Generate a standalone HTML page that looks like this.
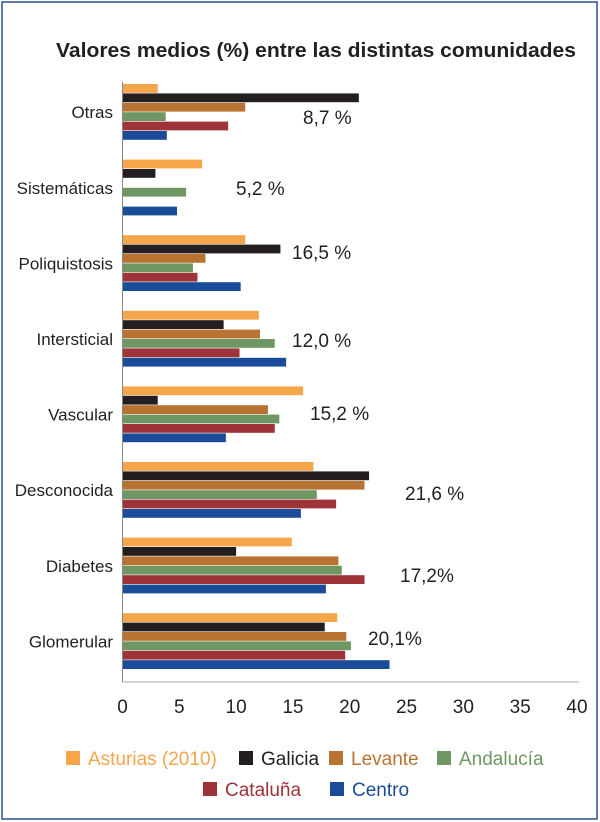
<!DOCTYPE html>
<html><head><meta charset="utf-8"><style>
html,body{margin:0;padding:0;background:#fff;}
svg{display:block;font-family:"Liberation Sans",sans-serif;}
</style></head><body>
<svg id="chart" width="600" height="822">
<rect x="2" y="2" width="595" height="817" fill="#fff" stroke="#2a4f8f" stroke-width="1.5"/>
<text x="56" y="57" font-size="20" font-weight="bold" fill="#231f20" textLength="520" lengthAdjust="spacingAndGlyphs">Valores medios (%) entre las distintas comunidades</text>
<g id="plot"></g>
</svg>
<script>
const categories=["Otras","Sistemáticas","Poliquistosis","Intersticial","Vascular","Desconocida","Diabetes","Glomerular"];
const seriesNames=["Asturias (2010)","Galicia","Levante","Andalucía","Cataluña","Centro"];
const asturias=[3.1,7.0,10.8,12.0,15.9,16.8,14.9,18.9];
const galicia=[20.8,2.9,13.9,8.9,3.1,21.7,10.0,17.8];
const levante=[10.8,0,7.3,12.1,12.8,21.3,19.0,19.7];
const andalucia=[3.8,5.6,6.2,13.4,13.8,17.1,19.3,20.1];
const cataluna=[9.3,0,6.6,10.3,13.4,18.8,21.3,19.6];
const centro=[3.9,4.8,10.4,14.4,9.1,15.7,17.9,23.5];
const annotations=["8,7 %","5,2 %","16,5 %","12,0 %","15,2 %","21,6 %","17,2%","20,1%"];
const annotX=[303,236,292,292,310,405,400,368];
const annotY=[124,195,259,347,420,500,582,645];
const ticks=[0,5,10,15,20,25,30,35,40];
const colors=["#f5a54a","#231f20","#b87333","#6f9764","#9e3339","#1b4c9a"];
const series=[asturias,galicia,levante,andalucia,cataluna,centro];
const NS="http://www.w3.org/2000/svg";
const g=document.getElementById('plot');
const x0=122.5,x1=577,xMax=40;
const xs=v=>x0+(v/xMax)*(x1-x0);
const groupTop=84,groupStep=75.6,barH=9.4;
function mk(t,a){const e=document.createElementNS(NS,t);for(const k in a)e.setAttribute(k,a[k]);g.appendChild(e);return e;}
categories.forEach((c,i)=>{
  const top=groupTop+i*groupStep;
  series.forEach((s,j)=>{
    if(s[i]<=0)return;
    const r=mk('rect',{x:x0,y:top+j*barH,width:xs(s[i])-x0,height:barH-0.6,fill:colors[j]});
    
    
  });
  const t=mk('text',{x:113,y:top+barH*3+6,'text-anchor':'end','font-size':17,fill:'#231f20'});
  t.textContent=c;
  
  
  const a=mk('text',{x:annotX[i],y:annotY[i],'font-size':19,fill:'#231f20'});
  a.textContent=annotations[i];
  
  
});
const ax=mk('line',{x1:x0,y1:82,x2:x0,y2:682,stroke:'#888','stroke-width':1});


const bx=mk('line',{x1:x0,y1:682,x2:x1+2,y2:682,stroke:'#aaa','stroke-width':1});


ticks.forEach(v=>{
  const t=mk('text',{x:xs(v),y:713,'text-anchor':'middle','font-size':19,fill:'#231f20'});
  t.textContent=v;
  
  
});
const legendPos=[[66,758],[239,758],[329,758],[437,758],[203,789],[330,789]];
seriesNames.forEach((n,j)=>{
  const [lx,ly]=legendPos[j];
  const r=mk('rect',{x:lx,y:ly-7,width:14,height:14,fill:colors[j]});
  
  
  const t=mk('text',{x:lx+22,y:ly+7,'font-size':19,fill:colors[j]});
  t.textContent=n;
  
  
});
</script>
</body></html>
